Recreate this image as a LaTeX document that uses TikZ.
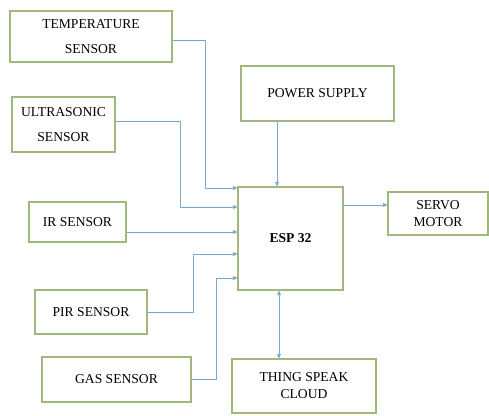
\documentclass[tikz,border=0pt]{standalone}
\usepackage{fontspec}
\setmainfont{Liberation Serif}
\usepackage{tikz}
\usetikzlibrary{arrows.meta, positioning, calc}

\definecolor{boxgreen}{RGB}{160,184,124}
\definecolor{wireblue}{RGB}{122,168,204}

\begin{document}
\begin{tikzpicture}[x=1pt, y=-1pt, >={Triangle[length=4.5pt,width=4pt]},
    block/.style={draw=boxgreen, line width=1.1pt, fill=white, align=center,
                  inner sep=0pt, text=black,
                  font=\fontsize{13.6}{17}\selectfont},
    tall/.style={font=\fontsize{13.6}{25}\selectfont},
    conn/.style={draw=wireblue, line width=0.7pt, ->, wireblue}]
  \useasboundingbox (0,0) rectangle (489,415);

  % sensors on the left
  \node[block, tall, minimum width=162pt, minimum height=51pt] (temp) at (91,36.5)
    {TEMPERATURE\\SENSOR};
  \node[block, tall, minimum width=103pt, minimum height=55pt] (ultra) at (63.5,124.5)
    {ULTRASONIC\\SENSOR};
  \node[block, minimum width=97pt, minimum height=40pt] (ir) at (77.5,222) {IR SENSOR};
  \node[block, minimum width=112pt, minimum height=44pt] (pir) at (91,312) {PIR SENSOR};
  \node[block, minimum width=149pt, minimum height=45pt] (gas) at (116.5,379.5) {GAS SENSOR};

  % controller and the rest
  \node[block, minimum width=153pt, minimum height=55pt] (power) at (317.5,93.5) {POWER SUPPLY};
  \node[block, minimum width=105pt, minimum height=103pt] (esp) at (290.5,238.5)
    {\textbf{ESP 32}};
  \node[block, minimum width=100pt, minimum height=43pt] (servo) at (438,213.5)
    {SERVO\\MOTOR};
  \node[block, minimum width=144pt, minimum height=54pt] (cloud) at (304,386)
    {THING SPEAK\\CLOUD};

  % sensor wires into the ESP 32
  \draw[conn] ([yshift=-3.5pt]temp.east) -- ++(33,0) |- ([yshift=50.5pt]esp.west);
  \draw[conn] ([yshift=3.5pt]ultra.east) -- ++(65,0) |- ([yshift=31.5pt]esp.west);
  \draw[conn] ([yshift=-10pt]ir.east) -- ([yshift=6.5pt]esp.west);
  \draw[conn] (pir.east) -- ++(46,0) |- ([yshift=-15.5pt]esp.west);
  \draw[conn] (gas.east) -- ++(25,0) |- ([yshift=-39.5pt]esp.west);

  % supply, output and cloud link
  \draw[conn] ([xshift=-40.5pt]power.south) -- ([xshift=-13.5pt]esp.north);
  \draw[conn] ([yshift=33.5pt]esp.east) -- ([yshift=8.5pt]servo.west);
  \draw[conn, <->] ([xshift=-11.5pt]esp.south) -- ([xshift=-25pt]cloud.north);
\end{tikzpicture}
\end{document}
